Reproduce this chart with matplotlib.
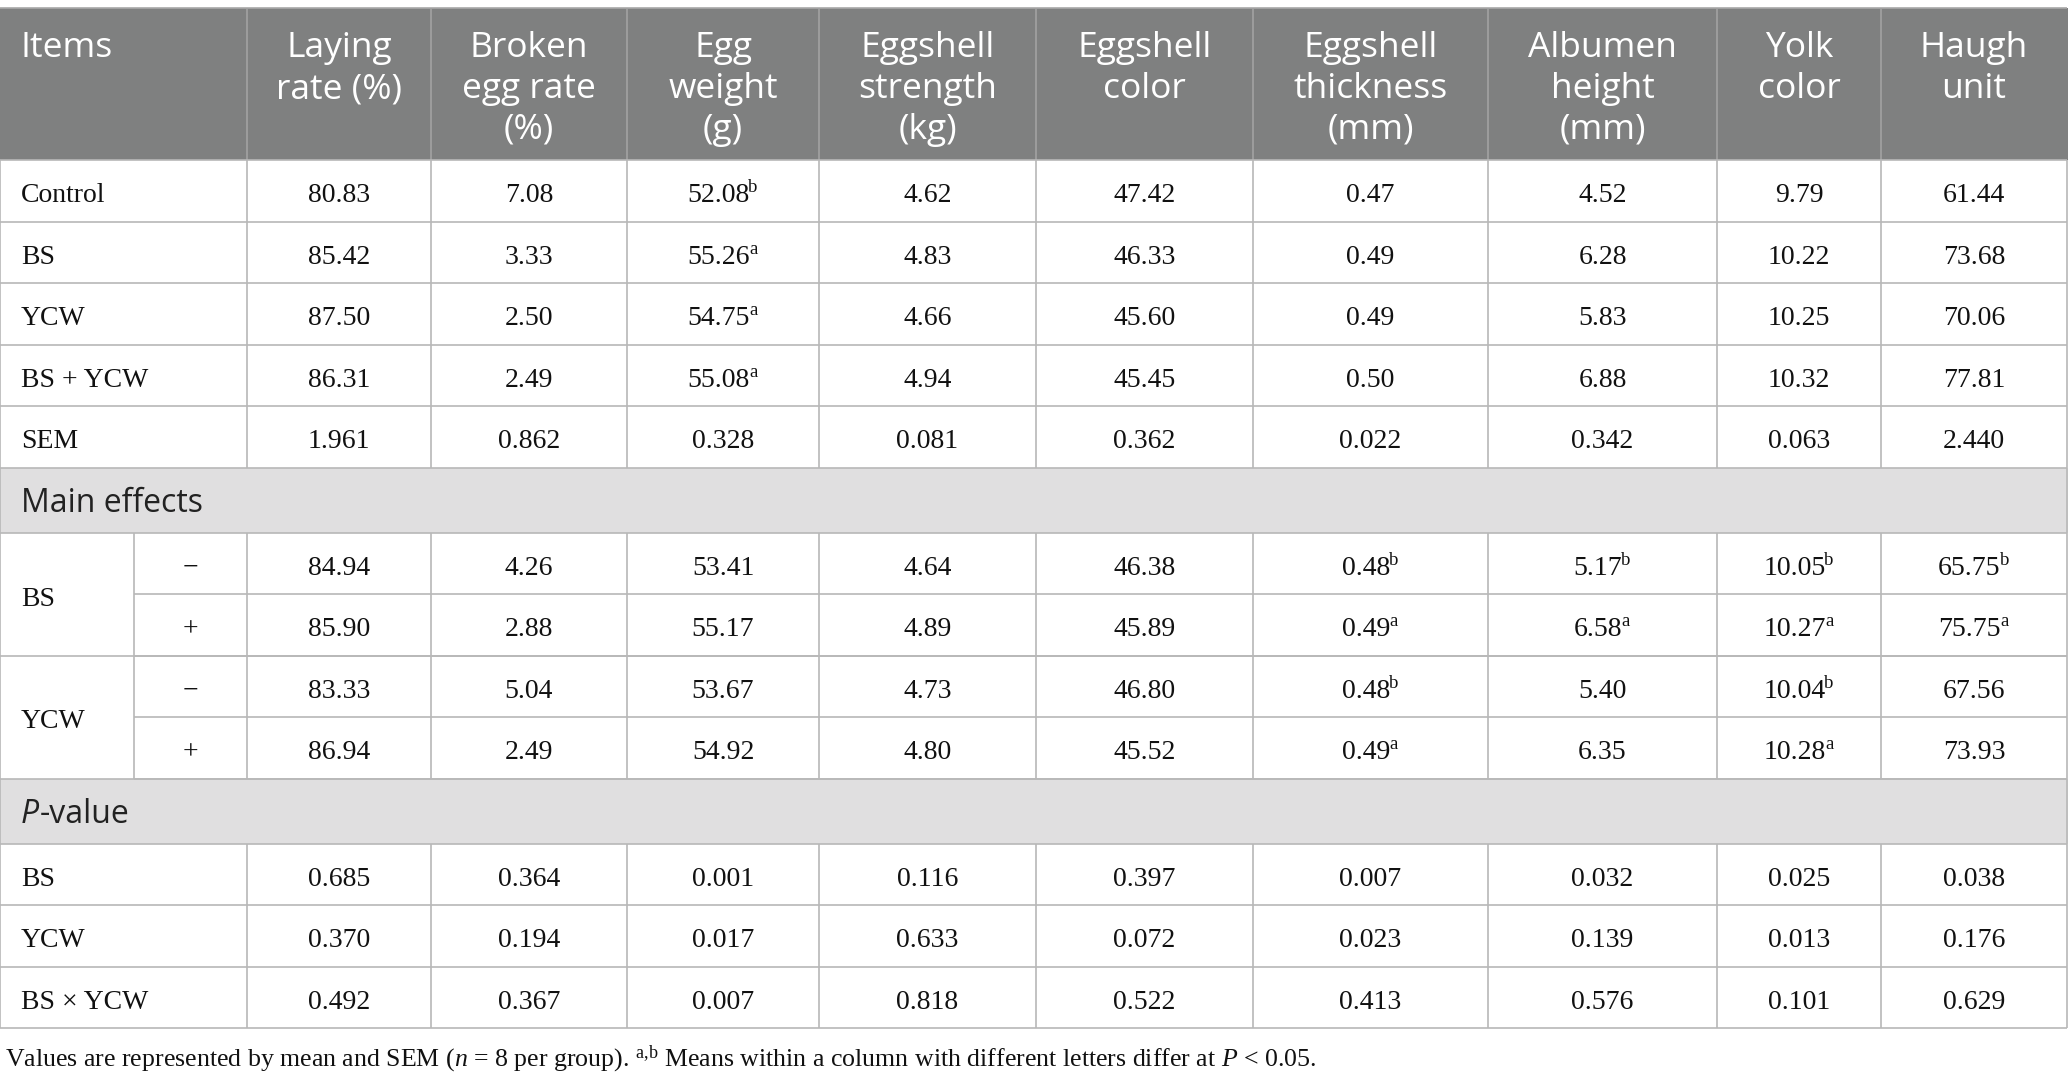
import matplotlib.pyplot as plt
from matplotlib.patches import Rectangle

# ---- table content ----
col_headers = ["Laying\nrate (%)", "Broken\negg rate\n(%)", "Egg\nweight\n(g)",
               "Eggshell\nstrength\n(kg)", "Eggshell\ncolor", "Eggshell\nthickness\n(mm)",
               "Albumen\nheight\n(mm)", "Yolk\ncolor", "Haugh\nunit"]

treat_names = ["Control", "BS", "YCW", "BS + YCW", "SEM"]
treat_vals = [
    ["80.83", "7.08", "52.08", "4.62", "47.42", "0.47", "4.52", "9.79", "61.44"],
    ["85.42", "3.33", "55.26", "4.83", "46.33", "0.49", "6.28", "10.22", "73.68"],
    ["87.50", "2.50", "54.75", "4.66", "45.60", "0.49", "5.83", "10.25", "70.06"],
    ["86.31", "2.49", "55.08", "4.94", "45.45", "0.50", "6.88", "10.32", "77.81"],
    ["1.961", "0.862", "0.328", "0.081", "0.362", "0.022", "0.342", "0.063", "2.440"],
]
treat_sup = [
    ["", "", "b", "", "", "", "", "", ""],
    ["", "", "a", "", "", "", "", "", ""],
    ["", "", "a", "", "", "", "", "", ""],
    ["", "", "a", "", "", "", "", "", ""],
    ["", "", "", "", "", "", "", "", ""],
]

main_groups = ["BS", "YCW"]
main_levels = ["\u2212", "+"]
main_vals = [
    ["84.94", "4.26", "53.41", "4.64", "46.38", "0.48", "5.17", "10.05", "65.75"],
    ["85.90", "2.88", "55.17", "4.89", "45.89", "0.49", "6.58", "10.27", "75.75"],
    ["83.33", "5.04", "53.67", "4.73", "46.80", "0.48", "5.40", "10.04", "67.56"],
    ["86.94", "2.49", "54.92", "4.80", "45.52", "0.49", "6.35", "10.28", "73.93"],
]
main_sup = [
    ["", "", "", "", "", "b", "b", "b", "b"],
    ["", "", "", "", "", "a", "a", "a", "a"],
    ["", "", "", "", "", "b", "", "b", ""],
    ["", "", "", "", "", "a", "", "a", ""],
]

p_names = ["BS", "YCW", "BS \u00d7 YCW"]
p_vals = [
    ["0.685", "0.364", "0.001", "0.116", "0.397", "0.007", "0.032", "0.025", "0.038"],
    ["0.370", "0.194", "0.017", "0.633", "0.072", "0.023", "0.139", "0.013", "0.176"],
    ["0.492", "0.367", "0.007", "0.818", "0.522", "0.413", "0.576", "0.101", "0.629"],
]

# ---- layout (pixels) ----
W, H = 2068, 1085
col_edges = [0, 247, 431, 627, 819, 1036, 1253, 1488, 1717, 1881, 2067]
sub_x = 134
top, head_bot = 8, 160
row_h = 61.5
sect_h = 65

HEAD_BG = "#7f8080"
SECT_BG = "#e0dfe0"
LINE = "#b8b8b8"
HEAD_LINE = "#a2a2a2"
SERIF = "Liberation Serif"
SANS = "Open Sans"
TXT = "#111111"

plt.rcParams["mathtext.fontset"] = "custom"
plt.rcParams["mathtext.rm"] = SERIF
plt.rcParams["mathtext.it"] = SERIF + ":italic"

fig = plt.figure(figsize=(W / 100, H / 100), dpi=100)
ax = fig.add_axes([0, 0, 1, 1])
ax.set_xlim(0, W)
ax.set_ylim(H, 0)
ax.axis("off")
renderer = fig.canvas.get_renderer()

lw = 1.2


def hline(y, x0=0, x1=W - 1, c=LINE):
    ax.plot([x0, x1], [y, y], color=c, lw=lw, solid_capstyle="butt")


def vline(x, y0, y1, c=LINE):
    ax.plot([x, x], [y0, y1], color=c, lw=lw, solid_capstyle="butt")


def text_w(t):
    return t.get_window_extent(renderer=renderer).width


def cell(x, y, val, sup):
    t = ax.text(x, y, val, fontsize=20, family=SERIF, ha="left", va="baseline", color=TXT)
    w1 = text_w(t)
    if not sup:
        t.set_x(x - w1 / 2)
        return
    s = ax.text(x, y - 10, sup, fontsize=13.5, family=SERIF, ha="left", va="baseline", color=TXT)
    w2 = text_w(s)
    x0 = x - (w1 + w2) / 2
    t.set_x(x0)
    s.set_x(x0 + w1 - 1)


def centers():
    return [(col_edges[i] + col_edges[i + 1]) / 2 for i in range(1, len(col_edges) - 1)]


# header
ax.add_patch(Rectangle((0, top), W, head_bot - top, color=HEAD_BG, lw=0))
hline(top, c="#a8a8a8")
for x in col_edges[1:-1]:
    vline(x, top, head_bot, c=HEAD_LINE)
ax.text(21, 57, "Items", fontsize=25.5, family=SANS, color="white", ha="left", va="baseline")
for cx, h in zip(centers(), col_headers):
    for k, line in enumerate(h.split("\n")):
        ax.text(cx, 57 + 41 * k, line, fontsize=25.5, family=SANS, color="white",
                ha="center", va="baseline")

y = head_bot
base_off = 11.5

# treatment rows
for name, vals, sups in zip(treat_names, treat_vals, treat_sup):
    ax.text(21, y + row_h / 2 + base_off, name, fontsize=20, family=SERIF, color=TXT,
            ha="left", va="baseline")
    for cx, v, s in zip(centers(), vals, sups):
        cell(cx, y + row_h / 2 + base_off, v, s)
    for x in col_edges:
        vline(x, y, y + row_h)
    hline(y)
    y += row_h
hline(y)

# Main effects section
ax.add_patch(Rectangle((0, y), W, sect_h, color=SECT_BG, lw=0))
ax.text(21, y + sect_h / 2 + 12, "Main effects", fontsize=23, family=SANS, color="#222222",
        ha="left", va="baseline")
vline(0, y, y + sect_h)
vline(W - 1, y, y + sect_h)
y += sect_h
hline(y)

r = 0
for g in main_groups:
    g_top = y
    ax.text(21, y + row_h + base_off, g, fontsize=20, family=SERIF, color=TXT,
            ha="left", va="baseline")
    for lev in main_levels:
        ax.text((sub_x + col_edges[1]) / 2, y + row_h / 2 + base_off, lev, fontsize=20,
                family=SERIF, color=TXT, ha="center", va="baseline")
        for cx, v, s in zip(centers(), main_vals[r], main_sup[r]):
            cell(cx, y + row_h / 2 + base_off, v, s)
        for x in col_edges[1:]:
            vline(x, y, y + row_h)
        vline(sub_x, y, y + row_h)
        r += 1
        y += row_h
        hline(y, x0=sub_x)
    vline(0, g_top, y)
    hline(y)

# P-value section
ax.add_patch(Rectangle((0, y), W, sect_h, color=SECT_BG, lw=0))
tp = ax.text(21, y + sect_h / 2 + 12, "P", fontsize=23, family=SANS, style="italic",
             color="#222222", ha="left", va="baseline")
ax.text(21 + text_w(tp) + 1, y + sect_h / 2 + 12, "-value", fontsize=23, family=SANS,
        color="#222222", ha="left", va="baseline")
vline(0, y, y + sect_h)
vline(W - 1, y, y + sect_h)
y += sect_h
hline(y)

for name, vals in zip(p_names, p_vals):
    ax.text(21, y + row_h / 2 + base_off, name, fontsize=20, family=SERIF, color=TXT,
            ha="left", va="baseline")
    for cx, v in zip(centers(), vals):
        cell(cx, y + row_h / 2 + base_off, v, "")
    for x in col_edges:
        vline(x, y, y + row_h)
    y += row_h
    hline(y)

# footnote
ax.text(5, 1066, r"Values are represented by mean and SEM ($\mathit{n}$ = 8 per group). "
        r"$^{\mathrm{a{,}b}}$ Means within a column with different letters differ at $\mathit{P}$ < 0.05.",
        fontsize=18.6, family=SERIF, color=TXT, ha="left", va="baseline")

fig.savefig("out.png", dpi=100)
